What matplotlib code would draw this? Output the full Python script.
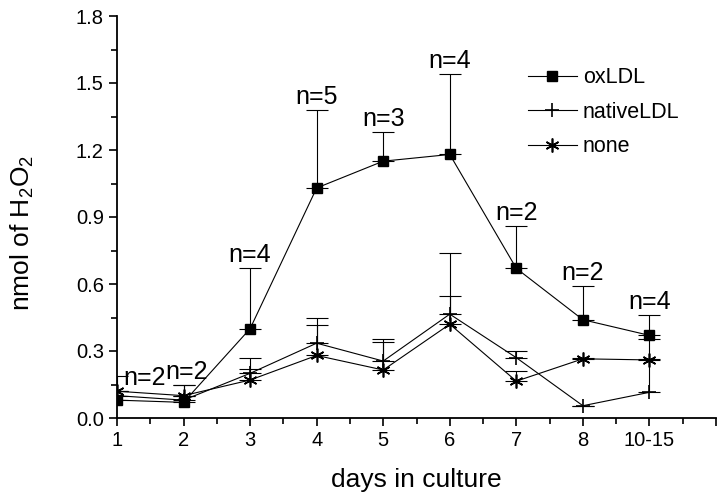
import numpy as np
import matplotlib.pyplot as plt
from matplotlib.ticker import MultipleLocator

plt.rcParams['font.family'] = ['Liberation Sans', 'DejaVu Sans']
plt.rcParams['mathtext.default'] = 'regular'

# days (category positions 1..9)
days = ['1', '2', '3', '4', '5', '6', '7', '8', '10-15']
n_labels = ['n=2', 'n=2', 'n=4', 'n=5', 'n=3', 'n=4', 'n=2', 'n=2', 'n=4']

oxldl = [0.08, 0.07, 0.40, 1.03, 1.15, 1.18, 0.67, 0.44, 0.37]
oxldl_err = [0.11, 0.08, 0.27, 0.35, 0.13, 0.36, 0.19, 0.15, 0.09]
native = [0.10, 0.08, 0.20, 0.335, 0.255, 0.465, 0.27, 0.055, 0.115]
native_err = [0.02, 0.02, 0.07, 0.115, 0.10, 0.275, 0.03, 0.0, 0.24]
none = [0.12, 0.10, 0.17, 0.28, 0.215, 0.42, 0.165, 0.265, 0.26]
none_err = [0.0, 0.05, 0.05, 0.135, 0.125, 0.125, 0.045, 0.005, 0.005]

x = np.arange(1, len(days) + 1)

fig = plt.figure(figsize=(7.2, 4.96), dpi=100)
ax = fig.add_axes([117 / 720, 78 / 496, 599 / 720, 402 / 496])

lw = 0.8
for y, e in [(oxldl, oxldl_err), (native, native_err), (none, none_err)]:
    ax.errorbar(x, y, yerr=[np.zeros(len(e)), e], fmt='none', ecolor='black',
                elinewidth=lw, capsize=8, capthick=lw)

ax.plot(x, oxldl, color='black', lw=lw, marker='s', ms=7, label='oxLDL')
ax.plot(x, native, color='black', lw=lw, marker='+', ms=10, mew=1.2, label='nativeLDL')
ax.plot(x, none, color='black', lw=lw, marker=(6, 2, 0), ms=10, mew=1.2, label='none')

# n labels above the oxLDL error bars
offsets = [(19.5, -2), (2, 9)] + [(0, 9.5)] * 7
for xi, yi, ei, t, off in zip(x, oxldl, oxldl_err, n_labels, offsets):
    ax.annotate(t, (xi, yi + ei), xytext=off, textcoords='offset points',
                ha='center', va='center', fontsize=18)

ax.set_xlim(1, 10)
ax.set_ylim(0, 1.8)
ax.set_xticks(list(x) + [10])
ax.set_xticklabels(days + [''])
ax.xaxis.set_minor_locator(MultipleLocator(0.5))
ax.set_yticks(np.arange(0, 1.81, 0.3))
ax.set_yticklabels(['%.1f' % v for v in np.arange(0, 1.81, 0.3)])
ax.yaxis.set_minor_locator(MultipleLocator(0.15))

ax.spines['top'].set_visible(False)
ax.spines['right'].set_visible(False)
for s in ['left', 'bottom']:
    ax.spines[s].set_linewidth(1.3)
ax.tick_params(which='major', direction='out', length=6, width=1.2, labelsize=14.5)
ax.tick_params(which='minor', direction='out', length=4, width=1.2)

ax.set_xlabel('days in culture', fontsize=19, labelpad=13)
ax.set_ylabel('nmol of H$_2$O$_2$', fontsize=19)
ax.yaxis.set_label_coords(-0.135, 0.46)

ax.legend(loc='upper left', bbox_to_anchor=(0.686, 0.872), frameon=False,
          fontsize=15.5, handlelength=2.27, handletextpad=0.28, labelspacing=0.62,
          borderpad=0, borderaxespad=0)

fig.savefig('out.png', dpi=100)
